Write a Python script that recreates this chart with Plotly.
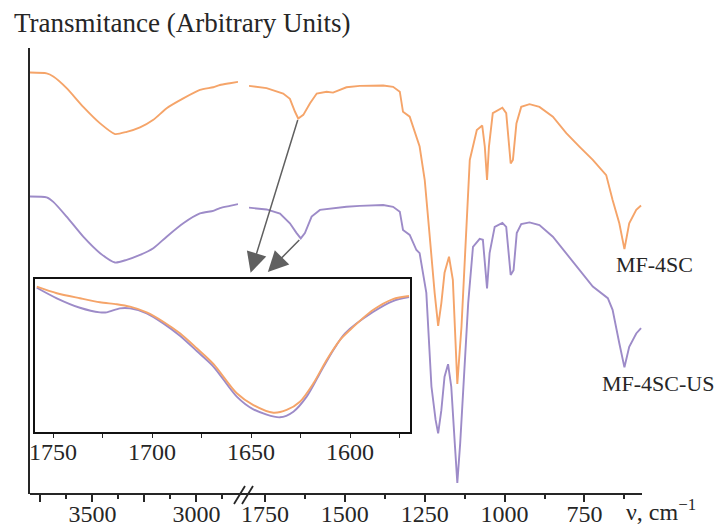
import plotly.graph_objects as go

# ---------------- data (arbitrary transmittance units) ----------------
wn_left = [3800, 3720, 3688, 3624, 3544, 3463, 3391, 3335, 3271, 3207, 3143, 3063, 2983, 2919, 2887, 2839, 2800]
mf4sc_left = [94.5, 94.3, 93.6, 91.0, 86.8, 83.1, 80.7, 81.2, 82.2, 83.9, 86.5, 88.7, 90.6, 91.2, 91.7, 92.1, 92.4]
mf4scus_left = [66.7, 66.5, 65.5, 62.2, 57.7, 54.0, 51.9, 52.5, 53.6, 55.1, 57.7, 60.7, 62.9, 63.5, 64.1, 64.6, 65.0]

wn_right_a = [1800, 1745, 1693, 1672, 1656, 1646, 1630, 1609, 1588, 1557, 1537, 1495, 1453, 1380, 1349, 1328,
              1318, 1297, 1266, 1250, 1237, 1224, 1219, 1208, 1198, 1188, 1174, 1162, 1148, 1135, 1125, 1109,
              1087, 1070, 1062, 1055, 1049, 1037, 1007, 995, 981, 974, 963, 948, 922, 891, 849, 807, 766, 724,
              682, 662, 641, 625, 610, 588, 573]
mf4sc_right = [91.5, 91.0, 89.8, 88.6, 85.7, 84.2, 85.0, 87.6, 89.8, 90.2, 90.0, 91.2, 91.5, 91.6, 91.3, 90.2,
               85.7, 84.6, 77.9, 70.4, 59.9, 48.7, 45.1, 37.7, 42.8, 49.6, 53.2, 48.0, 24.7, 37.5, 52.5, 74.9,
               81.6, 82.6, 77.9, 70.4, 77.9, 85.4, 86.6, 85.4, 74.1, 74.9, 83.1, 86.8, 87.4, 86.8, 84.6, 80.9,
               77.9, 74.9, 71.5, 65.9, 60.7, 54.9, 60.7, 63.7, 64.7]

wn_right_b = [1800, 1745, 1703, 1672, 1651, 1638, 1625, 1604, 1578, 1537, 1495, 1453, 1380, 1349, 1328, 1318,
              1297, 1276, 1266, 1245, 1229, 1216, 1208, 1198, 1188, 1177, 1167, 1156, 1148, 1139, 1125, 1114,
              1099, 1078, 1068, 1055, 1047, 1031, 1007, 995, 981, 972, 962, 948, 922, 891, 849, 807, 766, 724,
              677, 662, 641, 625, 610, 588, 573]
mf4scus_right = [64.2, 63.8, 62.9, 60.7, 58.5, 57.3, 58.5, 62.2, 63.7, 64.1, 64.4, 64.6, 64.8, 64.4, 63.3, 59.2,
                 58.1, 54.7, 54.0, 45.1, 24.1, 16.6, 13.6, 18.8, 26.3, 29.1, 24.1, 11.4, 2.5, 11.4, 30.0, 42.8,
                 55.4, 57.2, 57.0, 46.1, 54.0, 59.9, 60.8, 59.9, 49.1, 50.2, 58.5, 60.5, 60.9, 60.3, 57.7, 54.0,
                 50.2, 46.5, 43.9, 41.3, 33.8, 28.4, 33.0, 36.0, 37.2]

wn_inset_a = [1758.2, 1748.1, 1736.4, 1726.3, 1717.8, 1711.1, 1702.7, 1694.3, 1685.9, 1677.4, 1669.0,
              1657.2, 1648.8, 1638.7, 1632.0, 1625.3, 1618.5, 1611.8, 1605.1, 1600.0, 1588.4, 1578.3, 1570.2]
mf4sc_inset = [95.0, 90.7, 87.4, 84.8, 83.5, 81.9, 78.2, 72.1, 64.5, 54.7, 44.5,
               25.3, 17.6, 12.6, 14.4, 19.8, 31.8, 47.1, 60.1, 66.7, 79.7, 86.9, 88.9]

wn_inset_b = [1758.2, 1748.1, 1736.4, 1726.3, 1722.9, 1716.2, 1711.1, 1702.7, 1694.3, 1685.9, 1677.4, 1669.0,
              1657.2, 1648.8, 1635.4, 1628.6, 1621.9, 1615.2, 1608.4, 1602.5, 1588.4, 1578.3, 1570.2]
mf4scus_inset = [94.3, 87.4, 81.2, 78.2, 78.2, 80.8, 80.8, 77.6, 71.0, 62.9, 52.9, 42.8,
                 23.1, 14.8, 9.6, 13.3, 23.1, 38.4, 53.6, 64.5, 78.4, 85.6, 88.2]

left_major = [3750, 3500, 3250, 3000]
left_major_text = ["", "3500", "", "3000"]
left_minor = [3625, 3375, 3125, 2875]
right_major = [1750, 1500, 1250, 1000, 750]
right_major_text = ["1750", "1500", "1250", "1000", "750"]
right_minor = [1625, 1375, 1125, 875, 625]
inset_major = [1750, 1700, 1650, 1600]
inset_minor = [1725, 1675, 1625, 1575]

series_names = ["MF-4SC", "MF-4SC-US"]
ORANGE = "#F5A469"
PURPLE = "#9D8BC8"
AX = "#262626"
FONT = "Liberation Serif"

# ---------------- figure ----------------
fig = go.Figure()
lw = 1.9
fig.add_trace(go.Scatter(x=wn_left, y=mf4sc_left, mode="lines", line=dict(color=ORANGE, width=lw, shape="spline", smoothing=0.6),
                         xaxis="x", yaxis="y", name=series_names[0]))
fig.add_trace(go.Scatter(x=wn_left, y=mf4scus_left, mode="lines", line=dict(color=PURPLE, width=lw, shape="spline", smoothing=0.6),
                         xaxis="x", yaxis="y", name=series_names[1]))
fig.add_trace(go.Scatter(x=wn_right_a, y=mf4sc_right, mode="lines", line=dict(color=ORANGE, width=lw),
                         xaxis="x2", yaxis="y", name=series_names[0]))
fig.add_trace(go.Scatter(x=wn_right_b, y=mf4scus_right, mode="lines", line=dict(color=PURPLE, width=lw),
                         xaxis="x2", yaxis="y", name=series_names[1]))
fig.add_trace(go.Scatter(x=wn_inset_b, y=mf4scus_inset, mode="lines", line=dict(color=PURPLE, width=lw, shape="spline", smoothing=0.8),
                         xaxis="x3", yaxis="y3", name=series_names[1]))
fig.add_trace(go.Scatter(x=wn_inset_a, y=mf4sc_inset, mode="lines", line=dict(color=ORANGE, width=lw, shape="spline", smoothing=0.8),
                         xaxis="x3", yaxis="y3", name=series_names[0]))

W, H = 718, 527
ML, MR, MT, MB = 30, 76, 48, 33
PW, PH = W - ML - MR, H - MT - MB


def px2paper_x(px):
    return (px - ML) / PW


def py2paper_y(py):
    return (H - MB - py) / PH


tickfont = dict(family=FONT, size=24, color=AX)
common_x = dict(showgrid=False, zeroline=False, showline=False, ticks="outside", ticklen=7, tickwidth=1.5,
                tickcolor=AX, tickfont=tickfont, tickmode="array", automargin=False, ticklabelstandoff=-9)

fig.update_layout(
    width=W, height=H,
    margin=dict(l=ML, r=MR, t=MT, b=MB, pad=0, autoexpand=False),
    paper_bgcolor="white", plot_bgcolor="white",
    showlegend=False,
    font=dict(family=FONT, color=AX),
    xaxis=dict(common_x, domain=[0, px2paper_x(238)], range=[3800, 2800], anchor="y",
               tickvals=left_major, ticktext=left_major_text,
               minor=dict(tickmode="array", tickvals=left_minor, ticks="outside", ticklen=4, tickwidth=1.5, tickcolor=AX)),
    xaxis2=dict(common_x, domain=[px2paper_x(249), 1], range=[1800, 570], anchor="y",
                tickvals=right_major, ticktext=right_major_text,
                minor=dict(tickmode="array", tickvals=right_minor, ticks="outside", ticklen=4, tickwidth=1.5, tickcolor=AX)),
    yaxis=dict(domain=[0, 1], range=[0, 100], showgrid=False, zeroline=False, showticklabels=False,
               showline=True, linecolor=AX, linewidth=2, ticks="", anchor="x", automargin=False),
    xaxis3=dict(domain=[px2paper_x(35), px2paper_x(410)], range=[1759.1, 1569.7], anchor="y3",
                showgrid=False, zeroline=False, showline=True, mirror=True, linecolor="#111", linewidth=2,
                ticks="outside", ticklen=4, tickwidth=1.3, tickcolor=AX, tickfont=tickfont, automargin=False,
                ticklabelstandoff=-7,
                tickmode="array", tickvals=inset_major, ticktext=[str(v) for v in inset_major],
                minor=dict(tickmode="array", tickvals=inset_minor, ticks="outside", ticklen=4, tickwidth=1.3, tickcolor=AX)),
    yaxis3=dict(domain=[py2paper_y(432), py2paper_y(279)], range=[0, 100], anchor="x3", automargin=False,
                showgrid=False, zeroline=False, showline=True, mirror=True, linecolor="#111", linewidth=2,
                showticklabels=False, ticks=""),
)

# continuous bottom axis line with break marks
fig.add_shape(type="line", xref="paper", yref="paper", x0=0, x1=1, y0=0, y1=0, line=dict(color=AX, width=2))
for bx in (234, 242):
    fig.add_shape(type="line", xref="paper", yref="paper",
                  x0=px2paper_x(bx), y0=py2paper_y(504), x1=px2paper_x(bx + 11), y1=py2paper_y(486),
                  line=dict(color=AX, width=1.8))

# arrows from the 1640 cm-1 band to the inset
arrow_style = dict(showarrow=True, arrowhead=2, arrowsize=2.7, arrowwidth=1.5, arrowcolor="#606060",
                   standoff=0, startstandoff=0, text="", xref="x2", yref="y", axref="x2", ayref="y")
fig.add_annotation(x=1795, y=49.6, ax=1646, ay=84.2, **arrow_style)
fig.add_annotation(x=1741, y=49.8, ax=1638, ay=57.3, **arrow_style)

# text labels
fig.add_annotation(text="Transmitance (Arbitrary Units)", xref="paper", yref="paper",
                   x=px2paper_x(12), y=py2paper_y(23), xanchor="left", yanchor="middle",
                   showarrow=False, font=dict(family=FONT, size=27, color=AX))
fig.add_annotation(text=series_names[0], xref="paper", yref="paper",
                   x=px2paper_x(654), y=py2paper_y(264), xanchor="center", yanchor="middle",
                   showarrow=False, font=dict(family=FONT, size=22, color=AX))
fig.add_annotation(text=series_names[1], xref="paper", yref="paper",
                   x=px2paper_x(658), y=py2paper_y(383), xanchor="center", yanchor="middle",
                   showarrow=False, font=dict(family=FONT, size=22, color=AX))
fig.add_annotation(text="ν, cm<sup>−1</sup>", xref="paper", yref="paper",
                   x=px2paper_x(624), y=py2paper_y(510), xanchor="left", yanchor="middle",
                   showarrow=False, font=dict(family=FONT, size=24, color=AX))

fig.write_html("out.html")
